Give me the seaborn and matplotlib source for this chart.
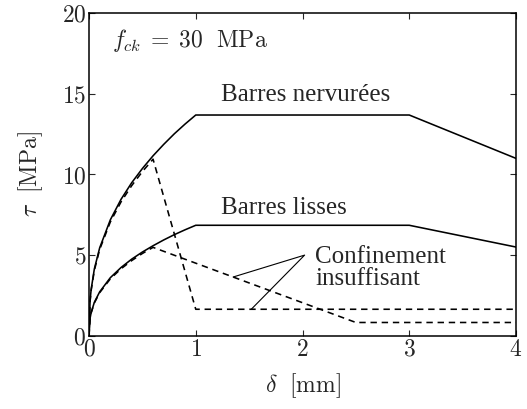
import matplotlib
matplotlib.use("Agg")
import matplotlib.pyplot as plt
import seaborn as sns
import pandas as pd

# Ribbed bars, good confinement
rib_x = [0, 0.01, 0.02, 0.05, 0.1, 0.2, 0.3, 0.4, 0.5, 0.6, 0.7, 0.8, 0.9, 1.0, 3.0, 4.0]
rib_y = [0, 2.17, 2.86, 4.14, 5.45, 7.19, 8.46, 9.49, 10.37, 11.16, 11.87, 12.53, 13.13, 13.69, 13.69, 11.0]
# Ribbed bars, insufficient confinement
rib_unc_x = [0, 0.01, 0.02, 0.05, 0.1, 0.2, 0.3, 0.4, 0.5, 0.6, 1.0, 4.0]
rib_unc_y = [0, 2.13, 2.81, 4.05, 5.35, 7.06, 8.30, 9.31, 10.18, 10.95, 1.64, 1.64]
# Smooth bars, good confinement
smo_x = [0, 0.01, 0.02, 0.05, 0.1, 0.2, 0.3, 0.4, 0.5, 0.6, 0.7, 0.8, 0.9, 1.0, 3.0, 4.0]
smo_y = [0, 1.08, 1.43, 2.07, 2.72, 3.60, 4.23, 4.75, 5.19, 5.58, 5.94, 6.27, 6.57, 6.85, 6.85, 5.5]
# Smooth bars, insufficient confinement
smo_unc_x = [0, 0.01, 0.02, 0.05, 0.1, 0.2, 0.3, 0.4, 0.5, 0.6, 2.5, 4.0]
smo_unc_y = [0, 1.06, 1.41, 2.03, 2.67, 3.53, 4.15, 4.66, 5.10, 5.48, 0.82, 0.82]

x_ticks = [0, 1, 2, 3, 4]
y_ticks = [0, 5, 10, 15, 20]

sns.set_style("ticks")
plt.rcParams["font.family"] = ["cmr10"]
plt.rcParams["mathtext.fontset"] = "cm"
plt.rcParams["axes.formatter.use_mathtext"] = True
plt.rcParams["axes.unicode_minus"] = False

fig = plt.figure(figsize=(5.27, 4.09), dpi=100)
ax = fig.add_axes([89/527, 1 - 335.7/409, (516-89)/527, (335.7-13.3)/409])

series = [
    (rib_x, rib_y, "-"),
    (rib_unc_x, rib_unc_y, "--"),
    (smo_x, smo_y, "-"),
    (smo_unc_x, smo_unc_y, "--"),
]
for xs, ys, ls in series:
    df = pd.DataFrame({"x": xs, "y": ys})
    sns.lineplot(data=df, x="x", y="y", sort=False, ax=ax, color="black",
                 linestyle=ls, linewidth=1.15, estimator=None)
    if ls == "--":
        ax.lines[-1].set_dashes([4, 3])

ax.set_xlim(0, 4)
ax.set_ylim(0, 20)
ax.set_xticks(x_ticks)
ax.set_yticks(y_ticks)
ax.tick_params(direction="in", top=True, right=True, labelsize=17, length=4, width=0.8, pad=2)
for s in ax.spines.values():
    s.set_linewidth(1.1)
    s.set_color("black")

ax.set_xlabel(r"$\delta\ \ \mathrm{[mm]}$", fontsize=17, labelpad=8)
ax.set_ylabel(r"$\tau\ \ \mathrm{[MPa]}$", fontsize=17, labelpad=12)

ax.text(0.215, 18.3, r"$f_{ck}\;=\;30\ \ \mathrm{MPa}$", fontsize=17, va="center", ha="left")
tfont = ["Liberation Serif"]
ax.text(2.03, 14.95, "Barres nervurées", fontsize=18, family=tfont, ha="center", va="center")
ax.text(1.83, 7.95, "Barres lisses", fontsize=18, family=tfont, ha="center", va="center")
ax.text(2.12, 4.2, "Confinement\ninsuffisant", fontsize=18, family=tfont, ha="left",
        va="center", linespacing=1.0)
ax.plot([1.35, 2.02, 1.52], [3.64, 5.0, 1.64], color="black", linewidth=0.8)

fig.savefig("out.png", dpi=100)
